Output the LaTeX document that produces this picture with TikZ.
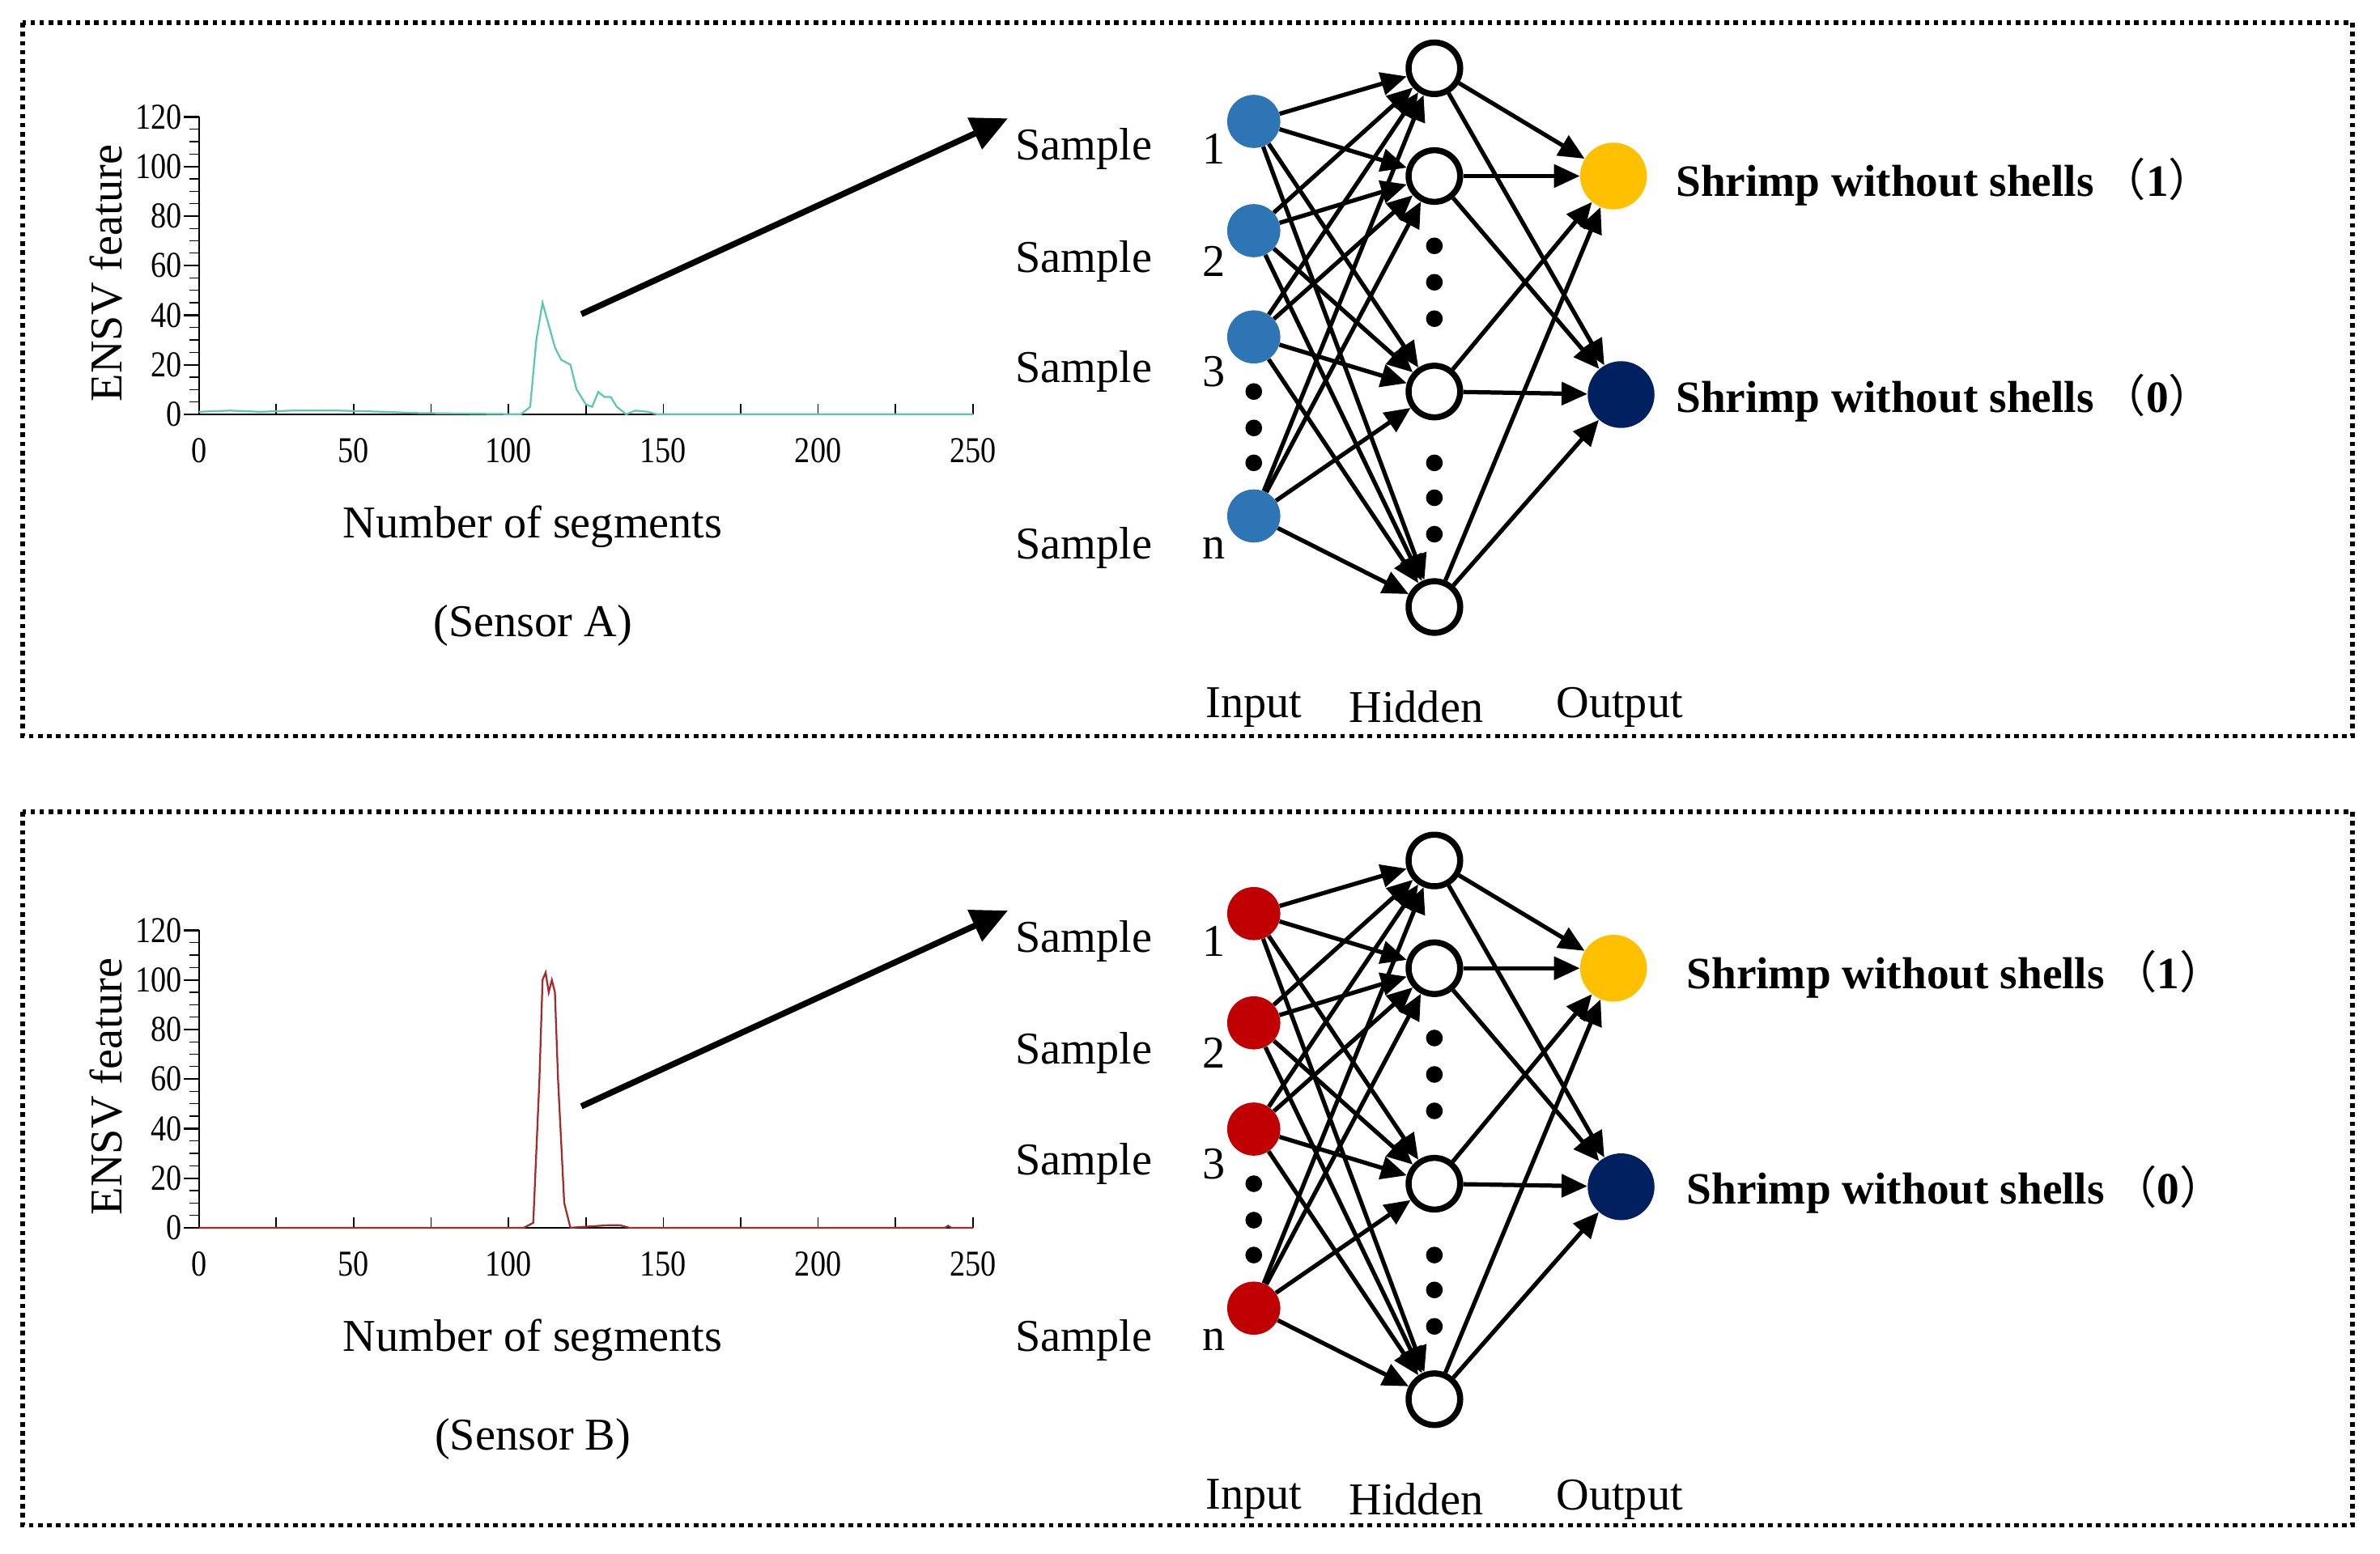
\documentclass[tikz,border=0pt]{standalone}
\usepackage{fontspec}
\setmainfont{Liberation Serif}
\newfontfamily\cjk{Noto Sans CJK SC}
\usetikzlibrary{arrows.meta}
\definecolor{inA}{HTML}{2E75B6}
\definecolor{inB}{HTML}{C00000}
\definecolor{outY}{HTML}{FFC000}
\definecolor{outN}{HTML}{002060}
\definecolor{curA}{HTML}{5CC8B0}
\definecolor{curB}{HTML}{A52A2A}
\tikzset{
 frame/.style={line width=3pt,dash pattern=on 3pt off 3pt},
 inn/.style={circle,minimum size=35pt,inner sep=0pt},
 hid/.style={circle,draw,line width=4pt,fill=white,minimum size=34pt,inner sep=0pt},
 outn/.style={circle,minimum size=44pt,inner sep=0pt},
 con/.style={line width=2.8pt,-{Triangle[length=17pt,width=15pt]}},
 dot/.style={circle,fill=black,minimum size=11pt,inner sep=0pt},
 txt/.style={font=\fontsize{30}{30}\selectfont,inner sep=0pt},
 btxt/.style={font=\bfseries\fontsize{29.5}{29.5}\selectfont,inner sep=0pt,anchor=west},
 tick/.style={font=\fontsize{24}{24}\selectfont,inner sep=0pt,xscale=0.85},
}
\newcommand\mypanel[7]{% prefix, input colour, curve colour, sensor, label x, plot shift, curve coords
\begin{scope}[yshift=#6]
\draw[line width=1.2pt] (131,77) -- (131,273) -- (641,273);
\foreach \i in {0,...,24}{\draw[line width=0.7pt] (131,273-\i*8.167) -- (125,273-\i*8.167);}
\foreach \v in {0,20,...,120}{\draw[line width=1.2pt] (131,273-\v*1.633) -- (121,273-\v*1.633);
 \node[tick,anchor=east] at (120,273-\v*1.633) {\v};}
\foreach \v in {0,25,...,250}{\draw[line width=0.9pt] (131+\v*2.04,273) -- (131+\v*2.04,266);}
\foreach \v in {0,50,...,250}{\node[tick] at (131+\v*2.04,297) {\v};}
\draw[#3,line width=1.2pt,x=2.04pt,y=1.633pt,shift={(131pt,-273pt)}] plot coordinates {#7};
\node[txt,rotate=90] (#1yl) at (70,180) {ENSV feature};
\node[txt] (#1xl) at (351,347) {Number of segments};
\node[txt] (#1sl) at (351,412) {(Sensor #4)};
\end{scope}
\coordinate (#1as) at (383,207);
\coordinate (#1ae) at (664,78);
\draw[line width=4pt,-{Triangle[length=24pt,width=22pt]}] (#1as) -- (#1ae);
\foreach \n/\y in {1/80,2/152,3/222,4/340}{\node[inn,fill=#2] (#1i\n) at (826,\y) {};}
\foreach \n/\y in {1/45,2/116,3/258,4/400}{\node[hid] (#1h\n) at (945,\y) {};}
\node[outn,fill=outY] (#1o1) at (1063,116) {};
\node[outn,fill=outN] (#1o2) at (1068,260) {};
\foreach \i in {1,...,4}{\foreach \h in {1,...,4}{\draw[con] (#1i\i) -- (#1h\h);}}
\foreach \h in {1,...,4}{\foreach \o in {1,2}{\draw[con] (#1h\h) -- (#1o\o);}}
\foreach \y [count=\k] in {258,282,305}{\node[dot] (#1di\k) at (826,\y) {};}
\foreach \y [count=\k] in {162,186,210,305,328,352}{\node[dot] (#1dh\k) at (945,\y) {};}
\foreach \y/\l [count=\k] in {98/1,172/2,245/3,361/n}{
 \node[txt] (#1s\k) at (714,\y) {Sample};
 \node[txt] (#1n\k) at (800,\y) {\l};}
\node[txt] (#1L1) at (826,466) {Input};
\node[txt] (#1L2) at (933,466) {Hidden};
\node[txt] (#1L3) at (1067,466) {Output};
\node[btxt] (#1t1) at (#5,120) {Shrimp without shells\,{\cjk\mdseries （}1{\cjk\mdseries ）}};
\node[btxt] (#1t2) at (#5,262) {Shrimp without shells\,{\cjk\mdseries （}0{\cjk\mdseries ）}};
}
\begin{document}
\begin{tikzpicture}[x=1pt,y=-1pt]
\useasboundingbox (0,0) rectangle (1568,1024);
\fill[white] (0,0) rectangle (1568,1024);
\draw[frame] (15,15) rectangle (1550,485);
\draw[frame] (15,535) rectangle (1550,1005);
\mypanel{A}{inA}{curA}{A}{1104}{0pt}{(0,1) (10,1.5) (20,1) (30,1.5) (45,1.5) (60,1) (70,0.5) (104,0) (107,3) (109,30) (111,45) (113,36) (115,27) (117,22) (120,20) (122,10) (125,4) (127,3) (129,9) (131,7) (133,7) (135,3) (138,0) (141,1.5) (145,1) (148,0) (250,0)}
\begin{scope}[yshift=-522pt]
\mypanel{B}{inB}{curB}{B}{1111}{-14pt}{(0,0) (105,0) (108,2) (110,60) (111,100) (112,103) (113,95) (114,100) (115,95) (116,60) (118,10) (120,0) (132,1) (136,1) (139,0) (241,0) (242,0.8) (243,0) (250,0)}
\end{scope}
\end{tikzpicture}
\end{document}
